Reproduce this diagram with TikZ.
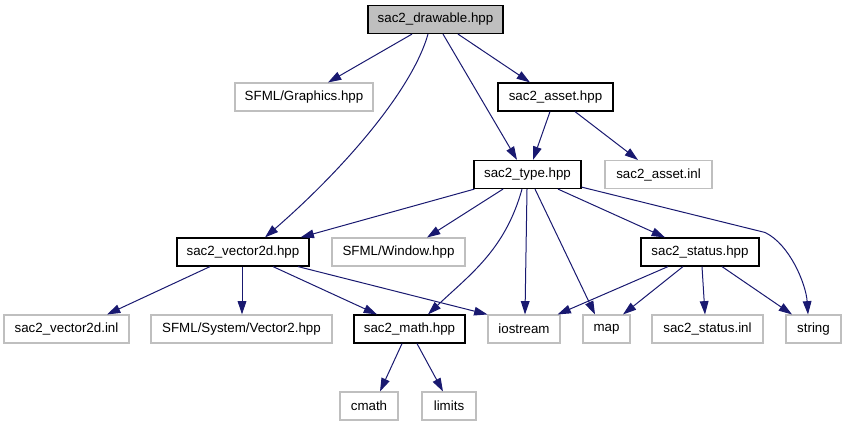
\documentclass[tikz,border=0pt]{standalone}
\usepackage{fontspec}
\setmainfont{Liberation Sans}
\usepackage{tikz}
\usetikzlibrary{arrows.meta,positioning,calc}
\definecolor{EdgeBlue}{HTML}{191970}
\definecolor{ExtStroke}{HTML}{BFBFBF}
\definecolor{RootFill}{HTML}{BFBFBF}

\begin{document}
\begin{tikzpicture}[x=0.75pt, y=-0.75pt, every node/.style={font=\fontsize{10pt}{12pt}\selectfont},
  hdr/.style={draw=black, line width=0.9pt, fill=white, minimum height=21pt, inner sep=2pt},
  ext/.style={draw=ExtStroke, line width=0.8pt, fill=white, minimum height=21pt, inner sep=2pt},
  inc/.style={EdgeBlue, line width=0.75pt, -{Triangle[length=10pt, width=6.5pt]}}]
  \useasboundingbox (0,0) rectangle (845,427);

  \node[hdr, fill=RootFill, minimum width=101.25pt] (drawable) at (435.5,19.5) {sac2\_drawable.hpp};
  \node[ext, minimum width=103.5pt] (graphics) at (304,97) {SFML/Graphics.hpp};
  \node[hdr, minimum width=86.25pt] (asset) at (555.5,97) {sac2\_asset.hpp};
  \node[hdr, minimum width=80.25pt] (type) at (527.5,174.5) {sac2\_type.hpp};
  \node[ext, minimum width=80.25pt] (assetinl) at (658.5,174.5) {sac2\_asset.inl};
  \node[hdr, minimum width=99pt] (vector) at (243,252) {sac2\_vector2d.hpp};
  \node[ext, minimum width=99.75pt] (window) at (398.5,252) {SFML/Window.hpp};
  \node[hdr, minimum width=88.5pt] (status) at (700,252) {sac2\_status.hpp};
  \node[ext, minimum width=93.75pt] (vectorinl) at (66.5,329) {sac2\_vector2d.inl};
  \node[ext, minimum width=135.75pt] (sysvec) at (241.5,329) {SFML/System/Vector2.hpp};
  \node[hdr, minimum width=83.25pt] (math) at (409.5,329) {sac2\_math.hpp};
  \node[ext, minimum width=54pt] (iostream) at (524,329) {iostream};
  \node[ext, minimum width=35.25pt] (map) at (606.5,329) {map};
  \node[ext, minimum width=83.25pt] (statusinl) at (707.5,329) {sac2\_status.inl};
  \node[ext, minimum width=41.25pt] (string) at (813.5,329) {string};
  \node[ext, minimum width=43.5pt] (cmath) at (369,406) {cmath};
  \node[ext, minimum width=40.5pt] (limits) at (449,406) {limits};

  \draw[inc] ($(drawable.south)+(-23.5,0)$) -- ($(graphics.north)+(24,0)$);
  \draw[inc] ($(drawable.south)+(-7.5,0)$) .. controls ($(drawable.south)+(-24,58)$) and ($(vector.north)+(97,-65)$) .. ($(vector.north)+(22,0)$);
  \draw[inc] ($(drawable.south)+(7.5,0)$) -- ($(type.north)+(-10.5,0)$);
  \draw[inc] ($(drawable.south)+(22.5,0)$) -- ($(asset.north)+(-25.5,0)$);
  \draw[inc] ($(asset.south)+(-5.5,0)$) -- ($(type.north)+(5.5,0)$);
  \draw[inc] ($(asset.south)+(19.5,0)$) -- ($(assetinl.north)+(-20.5,0)$);

  \draw[inc] ($(type.south west)+(1,0)$) -- ($(vector.north east)+(-9,0)$);
  \draw[inc] ($(type.south)+(-24.5,0)$) -- ($(window.north)+(28.5,0)$);
  \draw[inc] ($(type.south)+(-5.5,0)$) .. controls ($(type.south)+(-22.5,61)$) and ($(math.north)+(60.5,-40)$) .. ($(math.north)+(18.5,0)$);
  \draw[inc] ($(type.south)+(-0.5,0)$) -- ($(iostream.north)+(1,0)$);
  \draw[inc] ($(type.south)+(7.5,0)$) -- ($(map.north)+(-11.5,0)$);
  \draw[inc] ($(type.south)+(30.5,0)$) -- ($(status.north)+(-35,0)$);
  \draw[inc] ($(type.south east)+(0,-2)$) -- ($(string.north)+(-48.5,-82)$) .. controls ($(string.north)+(-23.5,-70)$) and ($(string.north)+(-7.5,-30)$) .. ($(string.north)+(-5.5,0)$);

  \draw[inc] ($(vector.south)+(-33,0)$) -- ($(vectorinl.north)+(40.5,0)$);
  \draw[inc] ($(vector.south)+(-1,0)$) -- ($(sysvec.north)+(0.5,0)$);
  \draw[inc] ($(vector.south)+(30,0)$) -- ($(math.north)+(-32.5,0)$);
  \draw[inc] ($(vector.south)+(55,0)$) -- (iostream.north west);

  \draw[inc] ($(status.south)+(-32,0)$) -- ($(iostream.north east)+(-3,0)$);
  \draw[inc] ($(status.south)+(-17,0)$) -- ($(map.north)+(16.5,0)$);
  \draw[inc] ($(status.south)+(2,0)$) -- ($(statusinl.north)+(-2.5,0)$);
  \draw[inc] ($(status.south)+(22,0)$) -- ($(string.north)+(-21.5,0)$);

  \draw[inc] ($(math.south)+(-7.5,0)$) -- ($(cmath.north)+(11,0)$);
  \draw[inc] ($(math.south)+(7.5,0)$) -- ($(limits.north)+(-6,0)$);
\end{tikzpicture}
\end{document}
